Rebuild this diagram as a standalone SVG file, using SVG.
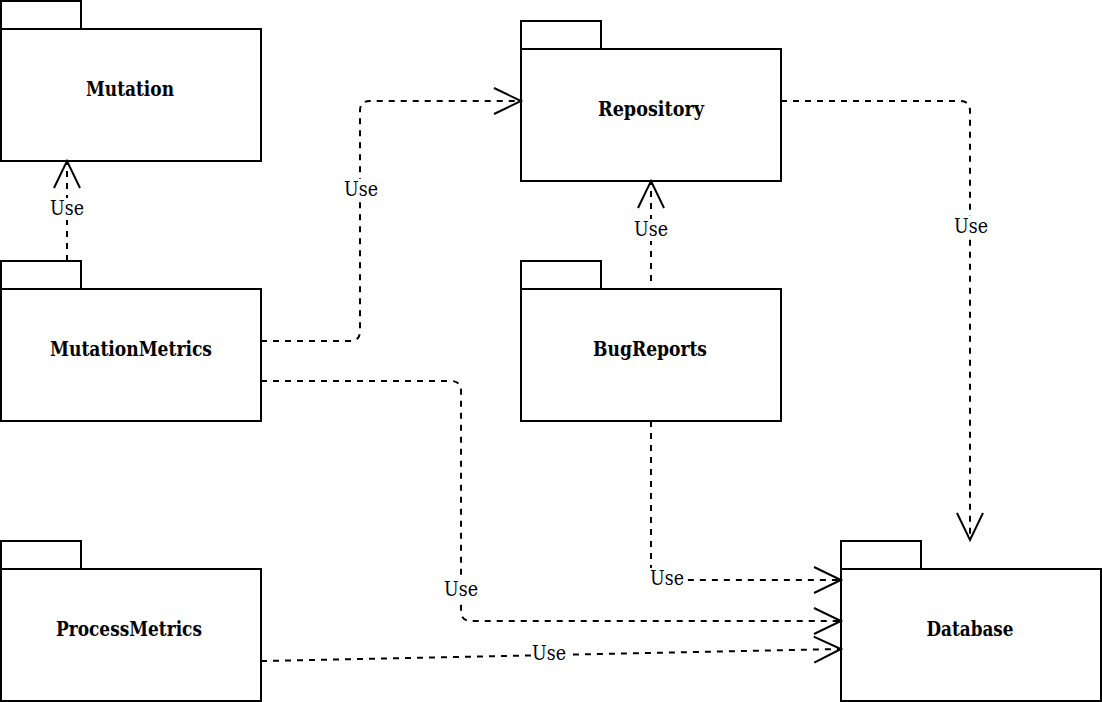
<svg xmlns="http://www.w3.org/2000/svg" width="1102" height="702" viewBox="0 0 1102 702">
  <style>
    .pkg rect { fill: #ffffff; stroke: #000000; stroke-width: 2; }
    .name { font-family: 'DejaVu Serif', serif; font-size: 21px; font-weight: bold; text-anchor: middle; fill: #000000; }
    .edge { fill: none; stroke: #000000; stroke-width: 2; stroke-dasharray: 6 6; marker-end: url(#open); }
    .lbl { font-family: 'DejaVu Serif', serif; font-size: 20px; text-anchor: middle; fill: #000000; }
    .lblbg { fill: #ffffff; }
  </style>
  <defs>
    <marker id="open" markerUnits="userSpaceOnUse" markerWidth="32" markerHeight="32" viewBox="-30 -16 32 32" refX="0" refY="0" orient="auto" overflow="visible">
      <path d="M -27 -13 L 0 0 L -27 13" fill="none" stroke="#000000" stroke-width="2"/>
    </marker>
  </defs>
  <rect width="1102" height="702" fill="#ffffff"/>

  <g id="node-mutation" class="pkg">
    <rect x="1" y="1" width="80" height="28"/>
    <rect x="1" y="29" width="260" height="132"/>
    <text class="name" x="130" y="96" textLength="88" lengthAdjust="spacingAndGlyphs">Mutation</text>
  </g>
  <g id="node-mutationmetrics" class="pkg">
    <rect x="1" y="261" width="80" height="28"/>
    <rect x="1" y="289" width="260" height="132"/>
    <text class="name" x="131" y="356" textLength="162" lengthAdjust="spacingAndGlyphs">MutationMetrics</text>
  </g>
  <g id="node-processmetrics" class="pkg">
    <rect x="1" y="541" width="80" height="28"/>
    <rect x="1" y="569" width="260" height="132"/>
    <text class="name" x="129" y="636" textLength="146" lengthAdjust="spacingAndGlyphs">ProcessMetrics</text>
  </g>
  <g id="node-repository" class="pkg">
    <rect x="521" y="21" width="80" height="28"/>
    <rect x="521" y="49" width="260" height="132"/>
    <text class="name" x="651" y="116" textLength="106" lengthAdjust="spacingAndGlyphs">Repository</text>
  </g>
  <g id="node-bugreports" class="pkg">
    <rect x="521" y="261" width="80" height="28"/>
    <rect x="521" y="289" width="260" height="132"/>
    <text class="name" x="650" y="356" textLength="114" lengthAdjust="spacingAndGlyphs">BugReports</text>
  </g>
  <g id="node-database" class="pkg">
    <rect x="841" y="541" width="80" height="28"/>
    <rect x="841" y="569" width="260" height="132"/>
    <text class="name" x="970" y="636" textLength="87" lengthAdjust="spacingAndGlyphs">Database</text>
  </g>

  <g id="connectors">
    <path class="edge" d="M 67 261 V 161"/>
    <path class="edge" d="M 261 341 H 350 Q 360 341 360 331 V 111 Q 360 101 370 101 H 521"/>
    <path class="edge" d="M 261 381 H 451 Q 461 381 461 391 V 611 Q 461 621 471 621 H 841"/>
    <path class="edge" d="M 261 661 L 841 649"/>
    <path class="edge" d="M 651 281 V 181"/>
    <path class="edge" d="M 651 421 V 570 Q 651 580 661 580 H 841"/>
    <path class="edge" d="M 781 101 H 960 Q 970 101 970 111 V 540"/>

    <rect class="lblbg" x="49" y="198" width="36" height="22"/>
    <text class="lbl" x="67" y="215" textLength="34" lengthAdjust="spacingAndGlyphs">Use</text>
    <rect class="lblbg" x="343" y="179" width="36" height="22"/>
    <text class="lbl" x="361" y="196" textLength="34" lengthAdjust="spacingAndGlyphs">Use</text>
    <rect class="lblbg" x="443" y="579" width="36" height="22"/>
    <text class="lbl" x="461" y="596" textLength="34" lengthAdjust="spacingAndGlyphs">Use</text>
    <rect class="lblbg" x="531" y="643" width="36" height="22"/>
    <text class="lbl" x="549" y="660" textLength="34" lengthAdjust="spacingAndGlyphs">Use</text>
    <rect class="lblbg" x="633" y="219" width="36" height="22"/>
    <text class="lbl" x="651" y="236" textLength="34" lengthAdjust="spacingAndGlyphs">Use</text>
    <rect class="lblbg" x="649" y="568" width="36" height="22"/>
    <text class="lbl" x="667" y="585" textLength="34" lengthAdjust="spacingAndGlyphs">Use</text>
    <rect class="lblbg" x="953" y="216" width="36" height="22"/>
    <text class="lbl" x="971" y="233" textLength="34" lengthAdjust="spacingAndGlyphs">Use</text>
  </g>
</svg>
